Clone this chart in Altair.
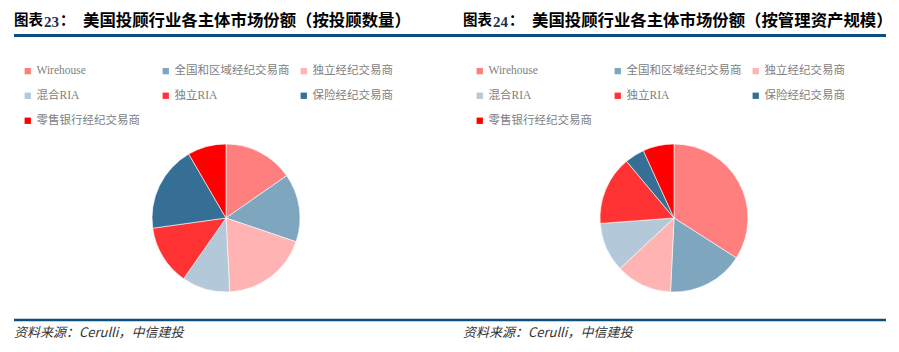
import altair as alt
import pandas as pd

categories = ["Wirehouse", "全国和区域经纪交易商", "独立经纪交易商", "混合RIA", "独立RIA", "保险经纪交易商", "零售银行经纪交易商"]
share_by_count = [15.3, 14.9, 19.0, 10.5, 13.1, 18.8, 8.4]
share_by_aum = [34.1, 16.7, 12.3, 10.8, 15.1, 4.3, 6.8]
palette = ["#FF7F7F", "#7FA6BF", "#FFB3B3", "#B3C9D9", "#FF3333", "#366F96", "#FF0000"]

titles = ["美国投顾行业各主体市场份额（按投顾数量）", "美国投顾行业各主体市场份额（按管理资产规模）"]
fig_nums = ["23", "24"]
source_text = "资料来源：Cerulli，中信建投"

CJK = "Noto Sans CJK SC"
LEG_FONT = "Liberation Serif, Noto Sans CJK SC"
NAVY = "#0B4E80"

df1 = pd.DataFrame({"cat": categories, "v": share_by_count, "idx": range(7)})
df2 = pd.DataFrame({"cat": categories, "v": share_by_aum, "idx": range(7)})
one = pd.DataFrame({"a": [0]})


def pie(df, cx, lx):
    return alt.Chart(df).mark_arc(
        x=cx, y=218, outerRadius=74, stroke="white", strokeWidth=0.6
    ).encode(
        theta=alt.Theta("v:Q", stack=True),
        order=alt.Order("idx:Q"),
        color=alt.Color(
            "cat:N",
            scale=alt.Scale(domain=categories, range=palette),
            legend=alt.Legend(
                orient="none", legendX=lx, legendY=65, title=None,
                direction="horizontal",
                columns=3, gridAlign="all", columnPadding=8, rowPadding=12,
                symbolType="square", symbolSize=40, symbolStrokeWidth=0,
                labelFont=LEG_FONT, labelFontSize=11.5, labelColor="#808080",
                labelOffset=3, labelLimit=200,
            ),
        ),
    )


def title_layers(x0, num, text):
    return [
        alt.Chart(one).mark_text(align="left", baseline="middle", font=CJK, fontWeight="bold",
                                 fontSize=14.5, color="black").encode(
            x=alt.value(x0), y=alt.value(21), text=alt.value("图表")),
        alt.Chart(one).mark_text(align="left", baseline="middle", font="Liberation Serif", fontWeight="bold",
                                 fontSize=15, color="#1F2F4F").encode(
            x=alt.value(x0 + 30), y=alt.value(21.5), text=alt.value(num)),
        alt.Chart(one).mark_text(align="left", baseline="middle", font=CJK, fontWeight="bold",
                                 fontSize=14.5, color="black").encode(
            x=alt.value(x0 + 46), y=alt.value(21), text=alt.value("：")),
        alt.Chart(one).mark_text(align="left", baseline="middle", font=CJK, fontWeight="bold",
                                 fontSize=16.4, color="black").encode(
            x=alt.value(x0 + 69), y=alt.value(21), text=alt.value(text)),
        alt.Chart(one).mark_text(align="left", baseline="middle", font=CJK, fontStyle="italic",
                                 fontSize=13, color="#333333").encode(
            x=alt.value(x0), y=alt.value(333), text=alt.value(source_text)),
    ]


top_rule = alt.Chart(one).mark_rule(color=NAVY, strokeWidth=3).encode(
    x=alt.value(14), x2=alt.value(886), y=alt.value(35.5))
bottom_rule = alt.Chart(one).mark_rule(color=NAVY, strokeWidth=2.5).encode(
    x=alt.value(14), x2=alt.value(886), y=alt.value(320))

layers = [pie(df1, 226, 22), pie(df2, 674, 474), top_rule, bottom_rule]
layers += title_layers(14, fig_nums[0], titles[0])
layers += title_layers(463, fig_nums[1], titles[1])

chart = alt.layer(*layers).resolve_scale(color="independent", theta="independent").properties(
    width=899, height=352, autosize=alt.AutoSizeParams(type="none"), padding=0,
    background="white",
).configure_view(stroke=None)

chart.save("out.html", embed_options={"renderer": "svg", "actions": False})
